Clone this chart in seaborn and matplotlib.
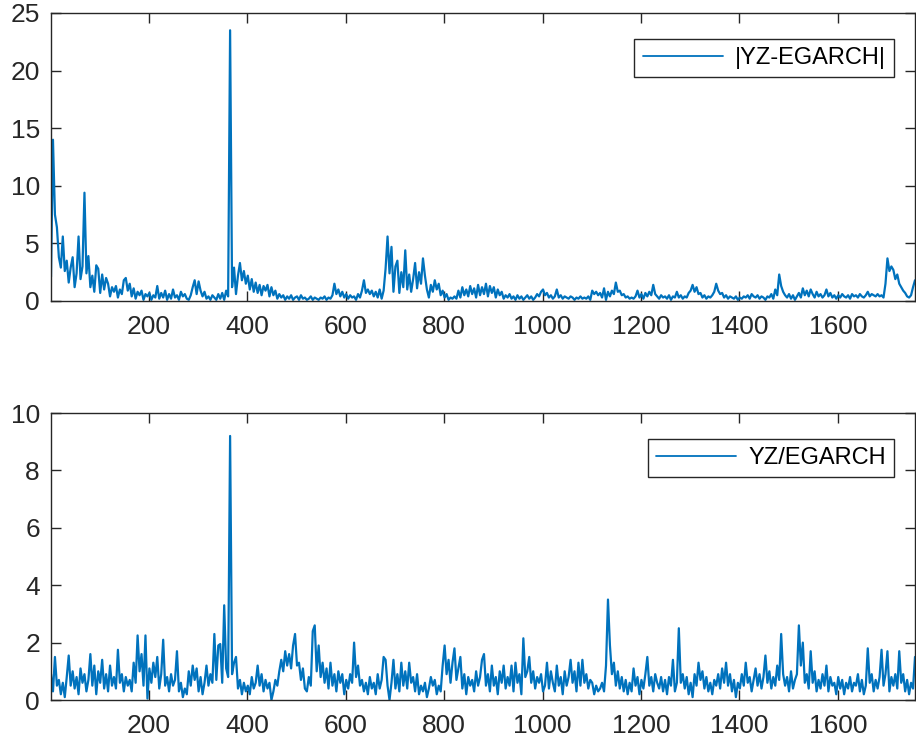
import numpy as np
import pandas as pd
import matplotlib
matplotlib.use("Agg")
import matplotlib.pyplot as plt
import seaborn as sns

# sample positions (every 4th observation, 1..1757)
x_index = list(range(1, 1758, 4))

abs_diff = [
    2.1, 14.0, 7.5, 6.4, 3.8, 2.9, 5.6, 2.6, 3.5, 1.6, 2.9, 3.8, 1.2, 2.4, 5.6, 1.9, 3.0, 9.4, 2.4, 3.9,
    1.2, 2.2, 0.8, 3.1, 2.8, 0.7, 2.3, 1.0, 2.0, 1.5, 0.4, 1.2, 0.8, 1.3, 0.3, 1.0, 0.6, 1.8, 2.0, 0.9,
    1.5, 0.4, 1.1, 0.2, 0.8, 0.5, 0.9, 0.1, 0.6, 0.4, 0.7, 0.1, 0.5, 0.3, 1.3, 0.2, 0.7, 0.3, 0.9, 0.1,
    0.6, 0.2, 1.0, 0.3, 0.5, 0.1, 0.8, 0.4, 0.6, 0.2, 0.1, 0.5, 1.2, 1.8, 0.6, 1.7, 0.9, 0.4, 0.8, 0.2,
    0.4, 0.1, 0.5, 0.3, 0.1, 0.6, 0.2, 0.7, 0.1, 0.9, 0.4, 23.5, 1.2, 2.9, 0.6, 2.2, 3.3, 1.8, 2.6, 1.5,
    2.2, 1.0, 1.9, 0.8, 1.6, 0.7, 1.4, 0.5, 1.3, 0.9, 1.4, 0.4, 1.2, 0.5, 0.9, 0.2, 0.6, 0.3, 0.5, 0.1,
    0.4, 0.2, 0.5, 0.1, 0.3, 0.4, 0.1, 0.5, 0.2, 0.3, 0.1, 0.2, 0.4, 0.1, 0.3, 0.2, 0.1, 0.3, 0.2, 0.4,
    0.1, 0.3, 0.2, 0.5, 1.5, 0.6, 1.0, 0.4, 0.8, 0.3, 0.6, 0.2, 0.5, 0.3, 0.4, 0.1, 0.6, 0.3, 0.9, 1.8,
    0.7, 1.0, 0.6, 0.9, 0.4, 0.8, 0.3, 1.0, 0.2, 0.9, 2.8, 5.6, 2.4, 4.7, 0.8, 3.0, 3.5, 0.7, 2.5, 1.2,
    4.4, 1.0, 2.3, 0.8, 1.9, 3.3, 1.1, 2.5, 1.5, 3.7, 2.2, 1.0, 0.3, 1.4, 0.8, 1.8, 1.0, 1.5, 0.5, 0.9,
    0.3, 0.6, 0.1, 0.3, 0.2, 0.4, 0.2, 0.9, 0.3, 1.2, 0.5, 1.0, 0.4, 1.3, 0.6, 1.1, 0.3, 1.4, 0.5, 1.2,
    0.6, 1.5, 0.4, 1.3, 0.7, 1.2, 0.3, 1.0, 0.5, 0.8, 0.2, 0.5, 0.3, 0.6, 0.2, 0.4, 0.1, 0.5, 0.2, 0.4,
    0.1, 0.3, 0.5, 0.2, 0.4, 0.1, 0.3, 0.6, 0.4, 0.8, 1.0, 0.5, 0.7, 0.3, 0.5, 0.2, 0.4, 1.0, 0.3, 0.5,
    0.2, 0.4, 0.3, 0.2, 0.4, 0.3, 0.1, 0.3, 0.2, 0.4, 0.2, 0.3, 0.2, 0.4, 0.1, 0.9, 0.6, 0.8, 0.5, 0.7,
    0.3, 1.1, 0.1, 0.8, 0.4, 0.9, 0.6, 1.6, 0.8, 0.9, 0.5, 0.6, 0.3, 0.4, 0.2, 0.3, 0.2, 0.4, 0.9, 0.3,
    0.6, 0.2, 0.7, 0.4, 0.8, 0.5, 1.4, 0.6, 0.4, 0.2, 0.5, 0.3, 0.4, 0.2, 0.5, 0.1, 0.4, 0.3, 0.8, 0.3,
    0.5, 0.2, 0.4, 0.3, 0.7, 0.9, 1.4, 0.8, 1.2, 0.6, 0.7, 0.3, 0.5, 0.2, 0.4, 0.3, 0.5, 0.8, 1.5, 0.9,
    0.6, 0.7, 0.3, 0.5, 0.2, 0.4, 0.3, 0.2, 0.4, 0.1, 0.3, 0.2, 0.4, 0.3, 0.5, 0.2, 0.6, 0.4, 0.3, 0.5,
    0.2, 0.4, 0.3, 0.1, 0.4, 0.3, 0.6, 0.2, 1.0, 0.5, 2.3, 1.3, 0.8, 0.5, 0.3, 0.6, 0.2, 0.5, 0.1, 0.4,
    0.7, 0.3, 1.1, 0.5, 0.9, 0.4, 1.0, 0.6, 0.3, 0.8, 0.4, 0.6, 0.3, 0.5, 1.0, 0.4, 0.7, 0.3, 0.5, 0.2,
    0.5, 0.3, 0.6, 0.4, 0.3, 0.5, 0.2, 0.6, 0.4, 0.5, 0.3, 0.6, 0.4, 0.3, 0.5, 0.8, 0.4, 0.6, 0.5, 0.4,
    0.6, 0.4, 0.5, 0.3, 1.5, 3.7, 2.6, 3.0, 2.7, 1.9, 2.3, 1.5, 1.2, 0.9, 0.7, 0.4, 0.3, 0.5, 1.2, 1.8,
]

ratio = [
    0.9, 0.3, 1.5, 0.5, 0.7, 0.2, 0.6, 0.1, 0.8, 1.55, 0.5, 1.0, 0.4, 0.8, 0.2, 1.1, 0.6, 0.9, 0.3, 0.7,
    1.6, 0.5, 1.2, 0.2, 1.0, 0.6, 1.4, 0.4, 0.9, 0.3, 1.2, 0.5, 0.8, 0.4, 1.75, 0.6, 0.9, 0.3, 0.8, 0.5,
    0.7, 0.3, 1.3, 0.6, 2.25, 1.0, 1.6, 0.5, 2.25, 0.05, 1.1, 0.6, 1.3, 0.8, 1.5, 0.4, 0.9, 2.1, 0.5, 0.8,
    0.3, 0.9, 0.5, 0.7, 1.7, 0.3, 0.6, 0.1, 0.4, 0.2, 1.0, 0.5, 1.2, 0.7, 1.1, 0.3, 0.8, 0.2, 0.6, 1.2,
    0.5, 0.9, 0.6, 2.3, 0.7, 1.9, 1.95, 0.6, 3.3, 1.1, 0.8, 9.2, 0.9, 1.3, 1.5, 0.4, 0.7, 0.2, 0.6, 0.3,
    0.5, 0.2, 0.8, 0.4, 0.6, 1.2, 0.5, 0.9, 0.3, 0.7, 0.4, 0.6, 0.0, 0.3, 0.7, 0.5, 1.0, 1.4, 1.0, 1.7,
    1.2, 1.6, 1.1, 1.9, 2.3, 1.2, 1.3, 0.7, 1.1, 0.4, 0.3, 0.8, 0.5, 2.4, 2.6, 1.0, 1.9, 0.8, 1.3, 0.6,
    1.1, 0.4, 1.3, 0.5, 0.9, 0.3, 1.0, 0.6, 0.9, 0.2, 0.7, 0.4, 0.9, 0.6, 2.0, 0.8, 1.2, 0.5, 0.7, 0.3,
    0.6, 0.2, 0.8, 0.4, 0.6, 0.2, 0.9, 0.4, 0.7, 1.5, 1.4, 0.5, 0.0, 0.6, 1.4, 0.4, 0.9, 0.3, 1.3, 0.5,
    1.0, 0.4, 1.3, 0.6, 0.8, 0.3, 0.9, 0.2, 0.5, 0.3, 0.6, 0.1, 0.4, 0.8, 0.5, 0.7, 0.2, 0.5, 0.3, 1.2,
    1.9, 0.9, 1.4, 0.6, 1.3, 1.8, 0.7, 1.1, 1.5, 0.4, 0.9, 0.2, 0.8, 0.5, 0.7, 0.3, 1.0, 0.5, 0.8, 1.4,
    1.6, 0.5, 0.9, 0.3, 1.2, 0.5, 0.8, 0.2, 1.0, 0.6, 1.2, 0.4, 0.8, 0.5, 1.2, 0.3, 1.3, 0.6, 0.9, 0.2,
    2.15, 0.8, 1.0, 1.5, 0.6, 1.0, 0.4, 0.8, 0.6, 0.9, 0.3, 0.5, 1.3, 0.4, 1.0, 0.6, 0.3, 1.2, 0.5, 0.8,
    0.2, 1.0, 0.5, 0.8, 1.4, 0.6, 1.0, 0.3, 1.3, 0.5, 1.4, 0.6, 0.9, 0.4, 0.7, 0.6, 0.2, 0.5, 0.3, 0.4,
    0.6, 0.3, 1.2, 3.5, 1.9, 0.9, 1.3, 0.5, 1.0, 0.4, 0.8, 0.3, 0.7, 0.2, 0.6, 0.3, 1.1, 0.5, 0.8, 0.2,
    0.7, 0.4, 0.9, 1.5, 0.5, 0.8, 0.3, 0.9, 0.6, 0.4, 0.8, 0.3, 0.7, 0.2, 0.8, 0.5, 1.4, 0.3, 0.6, 2.5,
    0.6, 0.9, 0.4, 0.8, 0.2, 0.6, 0.1, 0.9, 0.5, 1.3, 0.7, 1.0, 0.4, 0.8, 0.3, 0.6, 0.2, 0.7, 0.5, 0.9,
    0.4, 1.1, 0.6, 1.3, 0.5, 0.9, 0.3, 0.7, 0.1, 0.6, 0.4, 0.9, 0.5, 1.3, 0.6, 0.8, 0.3, 0.7, 1.1, 0.5,
    0.9, 0.4, 0.8, 1.55, 0.6, 1.0, 0.4, 0.8, 0.5, 1.2, 0.7, 2.3, 0.9, 0.5, 0.8, 0.3, 1.0, 0.4, 0.7, 0.9,
    2.6, 1.2, 2.0, 0.6, 0.9, 0.4, 1.7, 0.6, 1.0, 0.3, 0.7, 0.4, 0.9, 0.5, 1.2, 0.3, 0.8, 0.5, 0.6, 0.2,
    0.8, 0.4, 0.7, 0.2, 0.6, 0.4, 0.8, 0.3, 0.6, 0.5, 0.9, 0.3, 0.7, 0.2, 0.5, 1.8, 0.6, 0.9, 0.3, 0.7,
    0.4, 0.8, 1.75, 0.5, 0.9, 1.7, 0.3, 0.8, 0.5, 0.9, 0.4, 1.7, 0.6, 0.9, 0.3, 0.7, 0.2, 0.6, 0.4, 1.5,
]

labels = ["|YZ-EGARCH|", "YZ/EGARCH"]
x_ticks = [200, 400, 600, 800, 1000, 1200, 1400, 1600]
y_ticks_top = [0, 5, 10, 15, 20, 25]
y_ticks_bottom = [0, 2, 4, 6, 8, 10]

sns.set_style("white")
plt.rcParams["font.family"] = ["Liberation Sans", "DejaVu Sans"]

line_color = "#0072BD"
axis_color = "#262626"

fig = plt.figure(figsize=(9.16, 7.44), dpi=100)
W, H = 916, 744
left, right = 51, 915
ax1 = fig.add_axes([left / W, 1 - 301 / H, (right - left) / W, 288 / H])
ax2 = fig.add_axes([left / W, 1 - 700 / H, (right - left) / W, 287 / H])

df1 = pd.DataFrame({"x": x_index, "y": abs_diff})
df2 = pd.DataFrame({"x": x_index, "y": ratio})

sns.lineplot(data=df1, x="x", y="y", ax=ax1, color=line_color, linewidth=1.6, label=labels[0])
sns.lineplot(data=df2, x="x", y="y", ax=ax2, color=line_color, linewidth=1.6, label=labels[1])

for ax, yt, ytop in [(ax1, y_ticks_top, 25), (ax2, y_ticks_bottom, 10)]:
    ax.set_xlim(1, 1757)
    ax.set_ylim(0, ytop)
    ax.set_xticks(x_ticks)
    ax.set_yticks(yt)
    ax.set_xlabel("")
    ax.set_ylabel("")
    ax.tick_params(direction="in", length=7, width=1, colors=axis_color,
                   labelsize=19, top=True, right=True, bottom=True, left=True,
                   labelcolor=axis_color)
    ax.tick_params(axis="x", pad=10)
    ax.tick_params(axis="y", pad=8)
    for s in ax.spines.values():
        s.set_visible(True)
        s.set_color(axis_color)
        s.set_linewidth(1.0)
    leg = ax.legend(loc="upper right", bbox_to_anchor=(0.9757, 0.91), borderaxespad=0,
                    fontsize=17, handlelength=3.4, frameon=True, fancybox=False,
                    framealpha=1, edgecolor=axis_color, borderpad=0.35,
                    handletextpad=0.5, labelcolor="#000000")
    leg.get_frame().set_linewidth(1.0)
    for line in leg.get_lines():
        line.set_linewidth(1.3)

fig.savefig("out.png", dpi=100)
